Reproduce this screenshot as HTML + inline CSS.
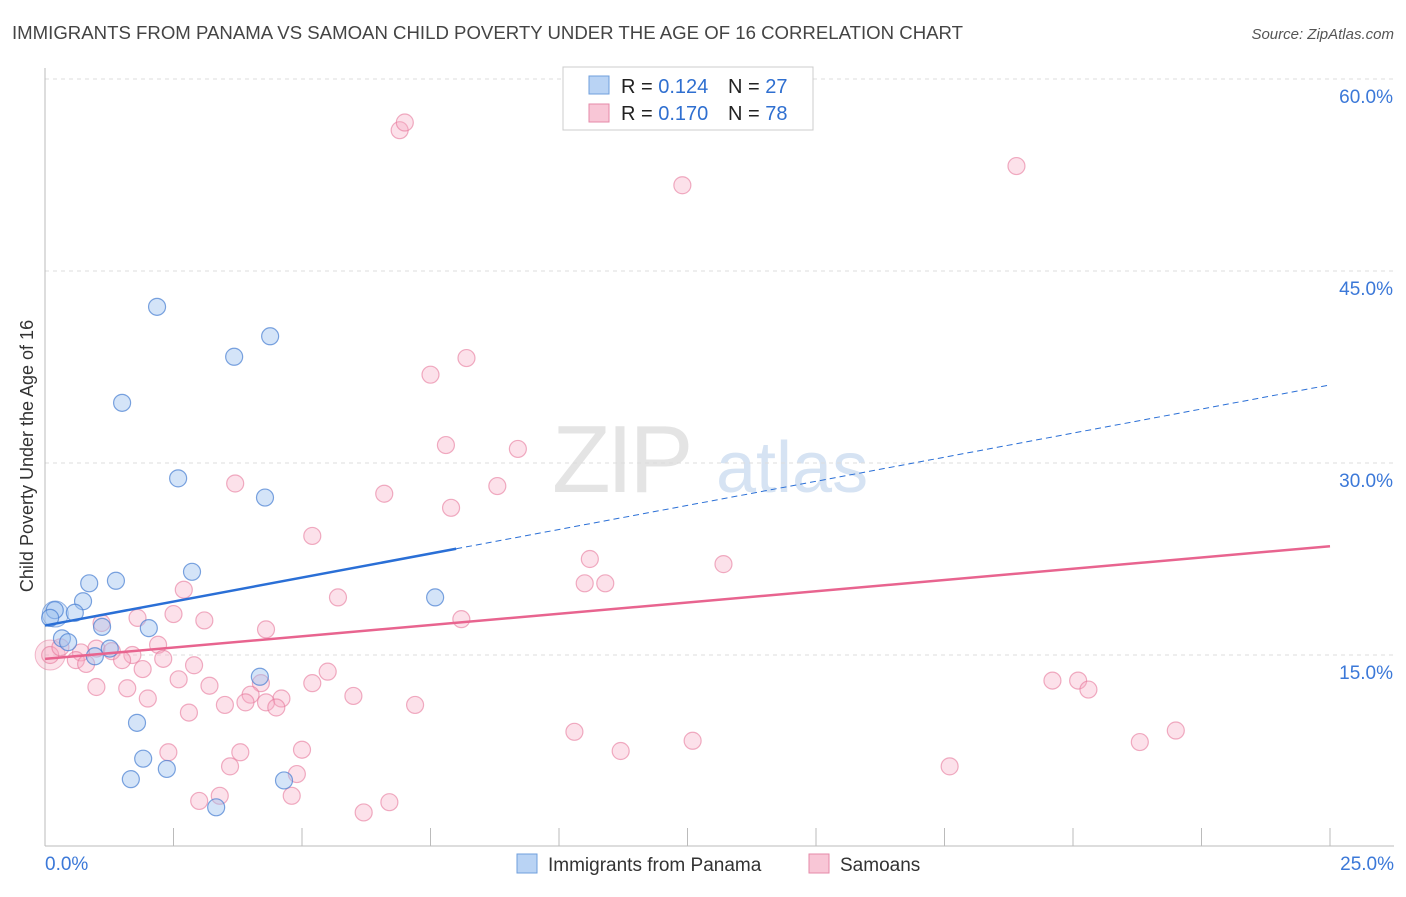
<!DOCTYPE html>
<html><head><meta charset="utf-8"><style>
body{margin:0;background:#fff;font-family:"Liberation Sans",sans-serif;}
svg text{font-family:"Liberation Sans",sans-serif;}
</style></head><body>
<svg id="chart" width="1406" height="892" viewBox="0 0 1406 892" xmlns="http://www.w3.org/2000/svg">
<text x="12" y="39" font-size="18" fill="#444" textLength="951" lengthAdjust="spacingAndGlyphs">IMMIGRANTS FROM PANAMA VS SAMOAN CHILD POVERTY UNDER THE AGE OF 16 CORRELATION CHART</text>
<text x="1394" y="39" font-size="15" fill="#555" font-style="italic" text-anchor="end">Source: ZipAtlas.com</text>
<text x="552" y="492" font-size="96" fill="#e4e4e4" font-family="Liberation Serif" letter-spacing="-4">ZIP</text>
<text x="716" y="492" font-size="72" fill="#d6e3f3">atlas</text>
<g id="grid"></g><g id="axes"></g><g id="pts"></g><g id="trends"></g>
<text transform="translate(33,456) rotate(-90)" font-size="18" fill="#333" text-anchor="middle">Child Poverty Under the Age of 16</text>
<g>
<rect x="563" y="67" width="250" height="63" fill="#fff" stroke="#ccc"/>
<rect x="589" y="76" width="20" height="18" fill="#b9d3f4" stroke="#6f9fdc"/>
<rect x="589" y="104" width="20" height="18" fill="#f8c6d6" stroke="#e68aa8"/>
<text x="621" y="93" font-size="20" fill="#222">R = <tspan fill="#2f6fd0">0.124</tspan></text>
<text x="728" y="93" font-size="20" fill="#222">N = <tspan fill="#2f6fd0">27</tspan></text>
<text x="621" y="120" font-size="20" fill="#222">R = <tspan fill="#2f6fd0">0.170</tspan></text>
<text x="728" y="120" font-size="20" fill="#222">N = <tspan fill="#2f6fd0">78</tspan></text>
</g>
<g>
<rect x="517" y="854" width="20" height="19" fill="#b9d3f4" stroke="#6f9fdc"/>
<text x="548" y="871" font-size="19" fill="#333">Immigrants from Panama</text>
<rect x="809" y="854" width="20" height="19" fill="#f8c6d6" stroke="#e68aa8"/>
<text x="840" y="871" font-size="19" fill="#333">Samoans</text>
</g>
</svg>
<script>
const yTicks=[15,30,45,60];
const yTickLabels=["15.0%","30.0%","45.0%","60.0%"];
const xTickLabels=["0.0%","25.0%"];
const panamaX=[2.18,4.38,3.68,1.50,2.59,4.28,2.86,1.38,0.86,0.74,0.58,0.19,0.1,2.02,1.11,0.33,0.45,1.26,0.97,4.18,1.79,1.91,1.67,2.37,4.65,3.33,7.59];
const panamaY=[42.2,39.9,38.3,34.7,28.8,27.3,21.5,20.8,20.6,19.2,18.3,18.5,17.9,17.1,17.2,16.3,16.0,15.5,14.9,13.3,9.7,6.9,5.3,6.1,5.2,3.1,19.5];
const samoanX=[6.9,7.0,12.4,18.9,8.2,7.5,7.8,9.2,3.7,8.8,6.6,7.9,5.2,10.6,13.2,10.5,10.9,2.7,5.7,8.1,2.5,1.8,3.1,1.1,4.3,2.2,0.1,1.0,0.7,1.3,1.7,0.6,0.8,1.5,2.3,1.9,2.9,5.5,2.6,1.0,1.6,4.2,3.2,5.2,2.0,4.0,4.6,6.0,3.9,4.3,4.5,3.5,2.8,7.2,19.6,20.1,20.3,10.3,12.6,22.0,21.3,2.4,3.8,5.0,11.2,3.6,17.6,4.9,3.4,3.0,4.8,6.7,6.2,0.3];
const samoanY=[56.0,56.6,51.7,53.2,38.2,36.9,31.4,31.1,28.4,28.2,27.6,26.5,24.3,22.5,22.1,20.6,20.6,20.1,19.5,17.8,18.2,17.9,17.7,17.5,17.0,15.8,15.0,15.5,15.2,15.3,15.0,14.6,14.3,14.6,14.7,13.9,14.2,13.7,13.1,12.5,12.4,12.8,12.6,12.8,11.6,11.9,11.6,11.8,11.3,11.3,10.9,11.1,10.5,11.1,13.0,13.0,12.3,9.0,8.3,9.1,8.2,7.4,7.4,7.6,7.5,6.3,6.3,5.7,4.0,3.6,4.0,3.5,2.7,15.6];
const X=v=>45+v*(1330-45)/25, Y=v=>847-v*12.8;
const NS="http://www.w3.org/2000/svg";
function mk(t,a,p){const e=document.createElementNS(NS,t);for(const k in a)e.setAttribute(k,a[k]);document.getElementById(p).appendChild(e);return e;}
yTicks.forEach((t,i)=>{
 const l=mk('line',{x1:45,x2:1394,y1:Y(t),y2:Y(t),stroke:'#ddd','stroke-dasharray':'4,4'},'grid');
 
 
 const tx=mk('text',{x:1393,y:Y(t)+24,'font-size':19,fill:'#3b78d8','text-anchor':'end'},'axes');tx.textContent=yTickLabels[i];
 
 
});
const tl=mk('line',{x1:45,x2:1394,y1:79,y2:79,stroke:'#ddd','stroke-dasharray':'4,4'},'grid');


const ya=mk('line',{x1:45,x2:45,y1:68,y2:846,stroke:'#bbb'},'axes');


const xa=mk('line',{x1:45,x2:1394,y1:846,y2:846,stroke:'#bbb'},'axes');


for(let i=0;i<=10;i++){const t=mk('line',{x1:X(i*2.5),x2:X(i*2.5),y1:828,y2:846,stroke:'#bbb'},'axes');
 
 }
[[0,45,'start'],[25,1394,'end']].forEach((d,i)=>{const t=mk('text',{x:d[1],y:870,'font-size':19,fill:'#3b78d8','text-anchor':d[2]},'axes');t.textContent=xTickLabels[i];
 
 });
const big=mk('circle',{cx:X(0.1),cy:Y(15.0),r:15,fill:'rgba(244,160,185,0.3)',stroke:'rgba(230,120,155,0.5)'},'pts');


samoanX.forEach((x,i)=>{const c=mk('circle',{cx:X(x),cy:Y(samoanY[i]),r:8.5,fill:'rgba(246,170,195,0.35)',stroke:'rgba(230,120,155,0.6)','stroke-width':1.2},'pts');
 
 });
const bb=mk('circle',{cx:X(0.2),cy:Y(18.2),r:13,fill:'rgba(150,190,240,0.35)',stroke:'rgba(80,130,210,0.6)'},'pts');


panamaX.forEach((x,i)=>{const c=mk('circle',{cx:X(x),cy:Y(panamaY[i]),r:8.5,fill:'rgba(160,196,240,0.45)',stroke:'rgba(70,125,210,0.7)','stroke-width':1.2},'pts');
 
 });
const bS=[0,17.3,8.0,23.3], bD=[8.0,23.3,25,36.1], pT=[0,14.7,25,23.5];
let l1=mk('line',{x1:X(bS[0]),y1:Y(bS[1]),x2:X(bS[2]),y2:Y(bS[3]),stroke:'#2a6fd6','stroke-width':2.5},'trends');


let l2=mk('line',{x1:X(bD[0]),y1:Y(bD[1]),x2:X(bD[2]),y2:Y(bD[3]),stroke:'#2a6fd6','stroke-width':1,'stroke-dasharray':'6,4'},'trends');


let l3=mk('line',{x1:X(pT[0]),y1:Y(pT[1]),x2:X(pT[2]),y2:Y(pT[3]),stroke:'#e8648f','stroke-width':2.5},'trends');


</script>
</body></html>
